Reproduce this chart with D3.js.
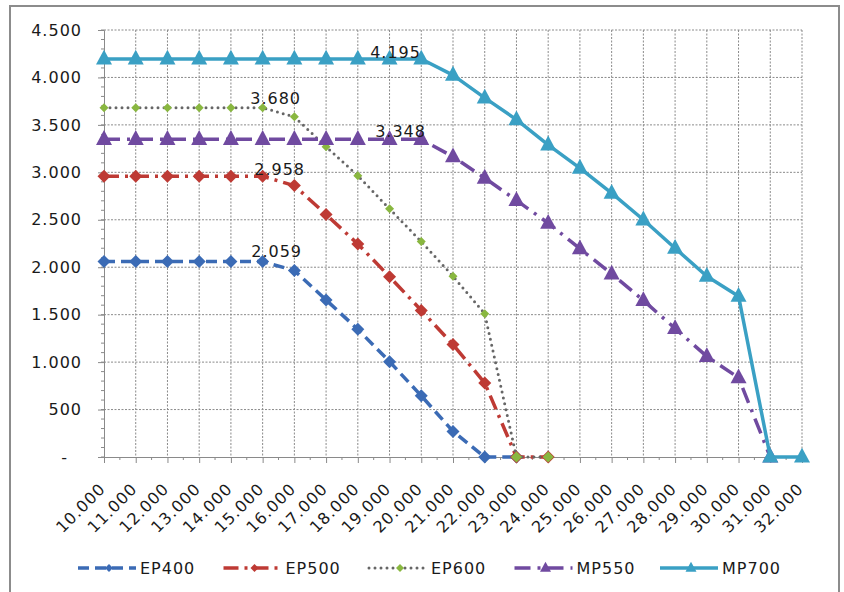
<!DOCTYPE html>
<html>
<head>
<meta charset="utf-8">
<script src="https://cdn.jsdelivr.net/npm/d3@7"></script>
<style>
  html, body { margin: 0; padding: 0; background: #fff; }
  svg { display: block; }
  text { font-family: "DejaVu Sans", Verdana, sans-serif; fill: #1a1a1a; }
</style>
</head>
<body>
<svg id="chart" width="844" height="592"></svg>
<script>
// ---- data ----
const categories = ["10.000","11.000","12.000","13.000","14.000","15.000","16.000","17.000","18.000","19.000","20.000","21.000","22.000","23.000","24.000","25.000","26.000","27.000","28.000","29.000","30.000","31.000","32.000"];
const seriesNames = ["EP400","EP500","EP600","MP550","MP700"];
const ep400 = [2059,2059,2059,2059,2059,2059,1965,1655,1345,1005,645,270,0,0];
const ep500 = [2958,2958,2958,2958,2958,2958,2860,2555,2245,1900,1545,1185,780,0,0];
const ep600 = [3680,3680,3680,3680,3680,3680,3585,3270,2965,2615,2270,1905,1510,0,0];
const mp550 = [3348,3348,3348,3348,3348,3348,3348,3348,3348,3348,3348,3165,2940,2705,2465,2195,1930,1650,1355,1060,835,0];
const mp700 = [4195,4195,4195,4195,4195,4195,4195,4195,4195,4195,4195,4025,3785,3555,3290,3045,2780,2500,2200,1905,1695,0,0];
const yTickValues = [0,500,1000,1500,2000,2500,3000,3500,4000,4500];
const yTickLabels = ["-","500","1.000","1.500","2.000","2.500","3.000","3.500","4.000","4.500"];
const labelSeries = ["EP400","EP500","EP600","MP550","MP700"];
const labelIndex = [5,5,5,9,9];

// ---- styles ----
const styles = {
  EP400: {color:"#3B6BB5", dash:"11,6", width:3.5, marker:"diamond", size:6.5, cap:"butt"},
  EP500: {color:"#BE3A34", dash:"15,6,3,6", width:3.5, marker:"diamond", size:6.5, cap:"butt"},
  EP600: {color:"#666666", dash:"0,6", width:3, marker:"diamond", size:4.5, zeroSize:5.6, fill:"#89B740", cap:"round"},
  MP550: {color:"#704AA0", dash:"16,7,3,7", width:3.5, marker:"triangle", size:8, cap:"butt"},
  MP700: {color:"#3AA0C4", dash:null, width:3.5, marker:"triangle", size:8, cap:"butt"}
};
const labelDx = {EP400:14, EP500:17, EP600:13, MP550:11, MP700:6};
const labelDy = {EP400:-10, EP500:-7, EP600:-9, MP550:-8, MP700:-7};
const seriesData = {EP400:ep400, EP500:ep500, EP600:ep600, MP550:mp550, MP700:mp700};

const fmt = v => v === 0 ? "-" : d3.format(",")(v).replace(/,/g, ".");

const svg = d3.select("#chart");
const L = 104, R = 802, T = 30, B = 457;
const x = d3.scalePoint().domain(categories).range([L, R]);
const y = d3.scaleLinear().domain([0, 4500]).range([B, T]);

// outer border
svg.append("rect").attr("x", 10).attr("y", 6).attr("width", 829).attr("height", 600)
  .attr("fill", "#fff").attr("stroke", "#8c8c8c").attr("stroke-width", 2);

// gridlines
const grid = svg.append("g");
grid.selectAll("line.h").data(yTickValues.filter(v => v > 0)).join("line")
  .attr("x1", L).attr("x2", R).attr("y1", d => y(d)).attr("y2", d => y(d))
  .attr("stroke", "#8a8a8a").attr("stroke-width", 1).attr("stroke-dasharray", "2,1.5");
grid.selectAll("line.v").data(categories.slice(1)).join("line")
  .attr("x1", d => x(d)).attr("x2", d => x(d)).attr("y1", T).attr("y2", B)
  .attr("stroke", "#8a8a8a").attr("stroke-width", 1).attr("stroke-dasharray", "2,1.5");

// minor ticks
const minorY = d3.range(0, 4501, 100);
svg.append("g").selectAll("line").data(minorY).join("line")
  .attr("x1", L - 3).attr("x2", L).attr("y1", d => y(d)).attr("y2", d => y(d))
  .attr("stroke", "#8a8a8a");
const step = x.step();
svg.append("g").selectAll("line").data(categories.slice(1)).join("line")
  .attr("x1", d => x(d) - step / 2).attr("x2", d => x(d) - step / 2)
  .attr("y1", B).attr("y2", B + 3).attr("stroke", "#8a8a8a");

// y axis
const yAxis = svg.append("g").attr("transform", `translate(${L},0)`)
  .call(d3.axisLeft(y).tickValues(yTickValues).tickSize(6).tickPadding(16)
    .tickFormat((d, i) => yTickLabels[i]));
yAxis.select(".domain").attr("stroke", "#8a8a8a");
yAxis.selectAll(".tick line").attr("stroke", "#8a8a8a");
yAxis.selectAll(".tick text").attr("font-size", 16).attr("letter-spacing", "1px")
  .attr("fill", "#1a1a1a");
yAxis.selectAll(".tick text").filter((d, i) => i === 0).attr("dx", -14);

// x axis
const xAxis = svg.append("g").attr("transform", `translate(0,${B})`)
  .call(d3.axisBottom(x).tickSize(6).tickSizeOuter(0));
xAxis.select(".domain").attr("stroke", "#8a8a8a");
xAxis.selectAll(".tick line").attr("stroke", "#8a8a8a");
xAxis.selectAll(".tick text")
  .attr("font-size", 16).attr("letter-spacing", "1px").attr("fill", "#1a1a1a")
  .attr("text-anchor", "end").attr("dy", "0.35em")
  .attr("transform", "translate(-2,29) rotate(-45)").attr("x", 0).attr("y", 0);

// marker paths
function markerPath(type, s) {
  if (type === "diamond") return `M0,${-s}L${s},0L0,${s}L${-s},0Z`;
  return `M0,${-s * 1.15}L${s},${s * 0.7}L${-s},${s * 0.7}Z`;
}

// series
const line = d3.line().x((d, i) => x(categories[i])).y(d => y(d));
seriesNames.forEach(name => {
  const st = styles[name];
  const data = seriesData[name];
  const g = svg.append("g");
  g.append("path").datum(data).attr("d", line).attr("fill", "none")
    .attr("stroke", st.color).attr("stroke-width", st.width)
    .attr("stroke-linecap", st.cap).attr("stroke-linejoin", "round")
    .attr("stroke-dasharray", st.dash);
  g.selectAll("path.m").data(data).join("path").attr("class", "m")
    .attr("transform", (d, i) => `translate(${x(categories[i])},${y(d)})`)
    .attr("d", d => markerPath(st.marker, (d === 0 && st.zeroSize) ? st.zeroSize : st.size))
    .attr("fill", st.fill || st.color);
});

// data labels
labelSeries.forEach((name, k) => {
  const i = labelIndex[k];
  const v = seriesData[name][i];
  svg.append("text").attr("x", x(categories[i]) + labelDx[name]).attr("y", y(v) + labelDy[name])
    .attr("dy", "0.35em").attr("text-anchor", "middle")
    .attr("font-size", 16).attr("letter-spacing", "1px").text(fmt(v));
});

// legend
const legY = 568;
seriesNames.forEach((name, k) => {
  const st = styles[name];
  const x0 = 78 + k * 145.5;
  const g = svg.append("g");
  g.append("line").attr("x1", x0).attr("x2", x0 + 58).attr("y1", legY).attr("y2", legY)
    .attr("stroke", st.color).attr("stroke-width", st.width)
    .attr("stroke-linecap", st.cap).attr("stroke-dasharray", st.dash);
  g.append("path").attr("transform", `translate(${x0 + 31},${legY})`)
    .attr("d", markerPath(st.marker, st.marker === "diamond" ? 4 : 5.5))
    .attr("fill", st.fill || st.color);
  g.append("text").attr("x", x0 + 62).attr("y", legY).attr("dy", "0.35em")
    .attr("font-size", 16).attr("letter-spacing", "1px").text(name);
});
</script>
</body>
</html>
